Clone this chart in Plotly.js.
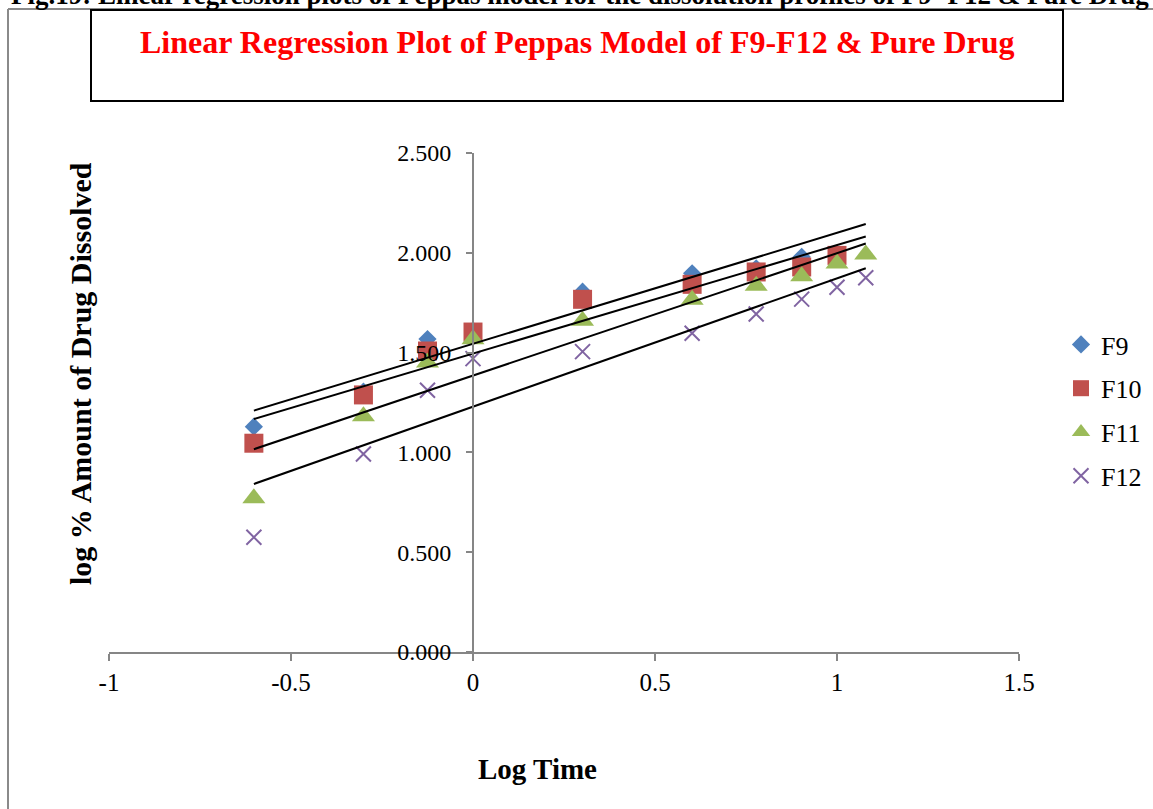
<!DOCTYPE html>
<html>
<head>
<meta charset="utf-8">
<script src="https://cdn.plot.ly/plotly-3.0.1.min.js"></script>
<style>html,body{margin:0;padding:0;background:#fff;}#chart{width:1153px;height:809px;}</style>
</head>
<body>
<div id="chart"></div>
<script>
// ---- data ----
const logTime = [-0.602, -0.301, -0.125, 0, 0.301, 0.602, 0.778, 0.903, 1.0, 1.079];
const F9  = [1.129, 1.304, 1.568, 1.610, 1.805, 1.897, 1.922, 1.980, 1.995, null];
const F10 = [1.046, 1.288, 1.508, 1.603, 1.767, 1.842, 1.904, 1.929, 1.987, null];
const F11 = [0.770, 1.181, 1.451, 1.567, 1.660, 1.765, 1.835, 1.882, 1.946, 1.992];
const F12 = [0.575, 0.992, 1.311, 1.470, 1.505, 1.597, 1.693, 1.768, 1.827, 1.875];
const seriesNames = ["F9", "F10", "F11", "F12"];
const trendSlope = [0.556, 0.544, 0.613, 0.643];
const trendIntercept = [1.544, 1.495, 1.385, 1.229];
const trendX = [-0.602, 1.079];
const xTickVals = [-1, -0.5, 0, 0.5, 1, 1.5];
const xTickText = ["-1", "-0.5", "0", "0.5", "1", "1.5"];
const yTickVals = [0, 0.5, 1.0, 1.5, 2.0, 2.5];
const chartTitle = "Linear Regression Plot of Peppas Model of F9-F12 & Pure Drug";
const figCaption = "Fig.19: Linear regression plots of Peppas model for the dissolution profiles of F9- F12 & Pure Drug";
const xTitle = "Log Time";
const yTitle = "log % Amount of Drug Dissolved";

// ---- styling ----
const FONT = '"Liberation Serif", "Times New Roman", Times, serif';
const seriesData = [F9, F10, F11, F12];
const colors = ["#4F81BD", "#C0504D", "#9BBB59", "#8064A2"];
const symbols = ["diamond", "square", "triangle-up", "x-thin-open"];
const sizes = [14, 19, 20, 15];

const traces = [];
seriesData.forEach((ys, i) => {
  const m = {symbol: symbols[i], size: sizes[i], color: colors[i]};
  if (symbols[i] === "x-thin-open") m.line = {color: colors[i], width: 2};
  else m.line = {width: 0};
  traces.push({
    type: "scatter", mode: "markers", name: seriesNames[i],
    x: logTime, y: ys, marker: m, legendgroup: "g" + i,
    hoverinfo: "x+y+name"
  });
});
seriesData.forEach((ys, i) => {
  traces.push({
    type: "scatter", mode: "lines", showlegend: false,
    x: trendX, y: trendX.map(v => trendIntercept[i] + trendSlope[i] * v),
    line: {color: "#000000", width: 2}, hoverinfo: "skip"
  });
});

const px = p => (p - 109) / 910;
const py = q => (652 - q) / 499;

const layout = {
  width: 1153, height: 809,
  margin: {l: 109, r: 134, t: 153, b: 157, autoexpand: false},
  paper_bgcolor: "#ffffff", plot_bgcolor: "#ffffff",
  font: {family: FONT, color: "#000000", size: 26},
  showlegend: true,
  legend: {
    x: px(1061), y: py(321), xanchor: "left", yanchor: "top",
    font: {family: FONT, size: 26, color: "#000"},
    tracegroupgap: 7, itemwidth: 30, bgcolor: "rgba(0,0,0,0)"
  },
  xaxis: {
    range: [-1, 1.5], tickvals: xTickVals, ticktext: xTickText,
    showgrid: false, zeroline: false, showline: true,
    linecolor: "#868686", linewidth: 2,
    ticks: "outside", ticklen: 7, tickwidth: 1.5, tickcolor: "#868686",
    tickfont: {family: FONT, size: 25, color: "#000"},
    ticklabelstandoff: 0
  },
  yaxis: {
    range: [0, 2.5], tickvals: yTickVals, tickformat: ".3f",
    anchor: "free", position: 0.4,
    showgrid: false, zeroline: false, showline: true,
    linecolor: "#868686", linewidth: 2,
    ticks: "outside", ticklen: 6, tickwidth: 1.5, tickcolor: "#868686",
    tickfont: {family: FONT, size: 24, color: "#000"},
    ticklabelstandoff: 10
  },
  shapes: [
    {type: "line", xref: "paper", yref: "paper", x0: px(8), x1: px(8), y0: py(9), y1: py(830), line: {color: "#8a8a8a", width: 2}},
    {type: "line", xref: "paper", yref: "paper", x0: px(8), x1: px(1170), y0: py(9), y1: py(9), line: {color: "#8a8a8a", width: 2}},
    {type: "rect", xref: "paper", yref: "paper", x0: px(91), x1: px(1063), y0: py(101), y1: py(10), line: {color: "#000000", width: 2}}
  ],
  annotations: [
    {xref: "paper", yref: "paper", x: px(580), y: py(-5), xanchor: "center", yanchor: "middle", showarrow: false,
     text: "<b>" + figCaption + "</b>", font: {family: FONT, size: 27, color: "#000"}},
    {xref: "paper", yref: "paper", x: px(577), y: py(42), xanchor: "center", yanchor: "middle", showarrow: false,
     text: "<b>" + chartTitle + "</b>", font: {family: FONT, size: 32, color: "#FF0000"}},
    {xref: "paper", yref: "paper", x: px(537), y: py(769), xanchor: "center", yanchor: "middle", showarrow: false,
     text: "<b>" + xTitle + "</b>", font: {family: FONT, size: 29, color: "#000"}},
    {xref: "paper", yref: "paper", x: px(80), y: py(374), xanchor: "center", yanchor: "middle", showarrow: false,
     textangle: -90, text: "<b>" + yTitle + "</b>", font: {family: FONT, size: 30, color: "#000"}}
  ]
};

Plotly.newPlot("chart", traces, layout, {displayModeBar: false, staticPlot: false});
</script>
</body>
</html>
